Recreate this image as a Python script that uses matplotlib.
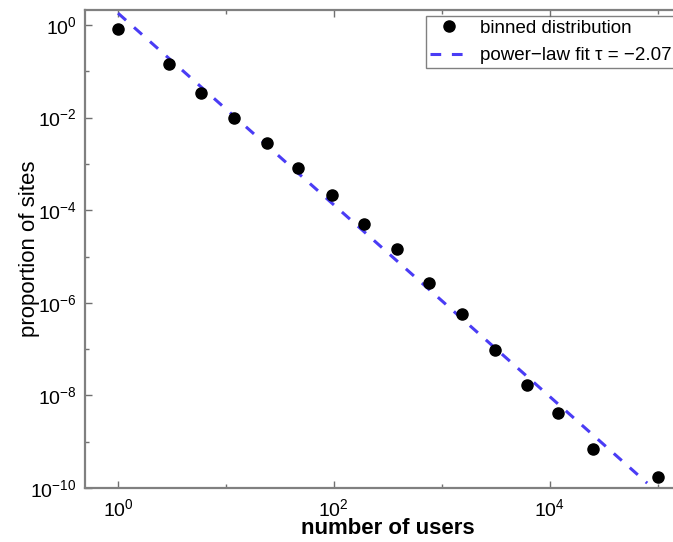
import numpy as np
import matplotlib
matplotlib.use('Agg')
import matplotlib.pyplot as plt
from matplotlib.ticker import FixedLocator, LogFormatterSciNotation, NullFormatter

plt.rcParams['font.family'] = ['Liberation Sans', 'DejaVu Sans']
plt.rcParams['mathtext.fontset'] = 'custom'
plt.rcParams['mathtext.rm'] = 'Liberation Sans'
plt.rcParams['mathtext.it'] = 'Liberation Sans:italic'

# binned distribution
users = [1, 2.96, 5.9, 11.8, 24, 47, 96, 190, 385, 760, 1540, 3090, 6150, 12000, 25000, 100000]
proportion = [0.82, 0.144, 0.034, 0.0098, 0.0028, 8.1e-4, 2.1e-4, 5.0e-5, 1.45e-5,
              2.7e-6, 5.7e-7, 9.5e-8, 1.67e-8, 4.2e-9, 6.9e-10, 1.7e-10]

# power-law fit
tau = -2.07
fit_c = 1.8
fit_x = np.logspace(0, np.log10(8e4), 50)
fit_y = fit_c*fit_x**tau

W, H = 673, 542
fig = plt.figure(figsize=(W/100, H/100), dpi=100)
x0, x1 = 10**-0.306, 10**5.3
y0, y1 = 1e-10, 10**0.324
ax = fig.add_axes([85/W, 54/H, 605/W, 478/H])

ax.loglog(users, proportion, 'o', color='k', markersize=8, label='binned distribution', zorder=3)
ax.loglog(fit_x, fit_y, '--', color='#4a3cf5', lw=2.2, dashes=(3.5, 3.5),
          label='power\u2212law fit \u03c4 = \u22122.07')

ax.set_xlim(x0, x1)
ax.set_ylim(y0, y1)

ax.xaxis.set_major_locator(FixedLocator([1, 1e2, 1e4]))
ax.xaxis.set_minor_locator(FixedLocator([1e1, 1e3, 1e5]))
ax.yaxis.set_major_locator(FixedLocator([1e-10, 1e-8, 1e-6, 1e-4, 1e-2, 1]))
ax.yaxis.set_minor_locator(FixedLocator([1e-9, 1e-7, 1e-5, 1e-3, 1e-1]))
ax.xaxis.set_major_formatter(LogFormatterSciNotation())
ax.yaxis.set_major_formatter(LogFormatterSciNotation())
ax.xaxis.set_minor_formatter(NullFormatter())
ax.yaxis.set_minor_formatter(NullFormatter())

ax.tick_params(which='both', direction='in', top=True, right=False, color='#707070', labelsize=14)
ax.tick_params(which='major', length=5, width=1)
ax.tick_params(which='minor', length=3, width=1)
ax.tick_params(axis='x', pad=7)
ax.tick_params(axis='y', pad=6)
for s in ax.spines.values():
    s.set_color('#808080')
    s.set_linewidth(1.6)

ax.set_xlabel('number of users', fontsize=16, fontweight='bold', labelpad=-1)
ax.set_ylabel('proportion of sites', fontsize=16, labelpad=-7)

leg = ax.legend(loc='upper left', bbox_to_anchor=(426/W, 1-16/H), bbox_transform=fig.transFigure,
                numpoints=1, fontsize=13.5, fancybox=False, edgecolor='#606060',
                borderpad=0.2, handlelength=2.0, handletextpad=0.7, labelspacing=0.55, borderaxespad=0)
leg.get_frame().set_linewidth(1.0)

plt.savefig('out.png', dpi=100)
